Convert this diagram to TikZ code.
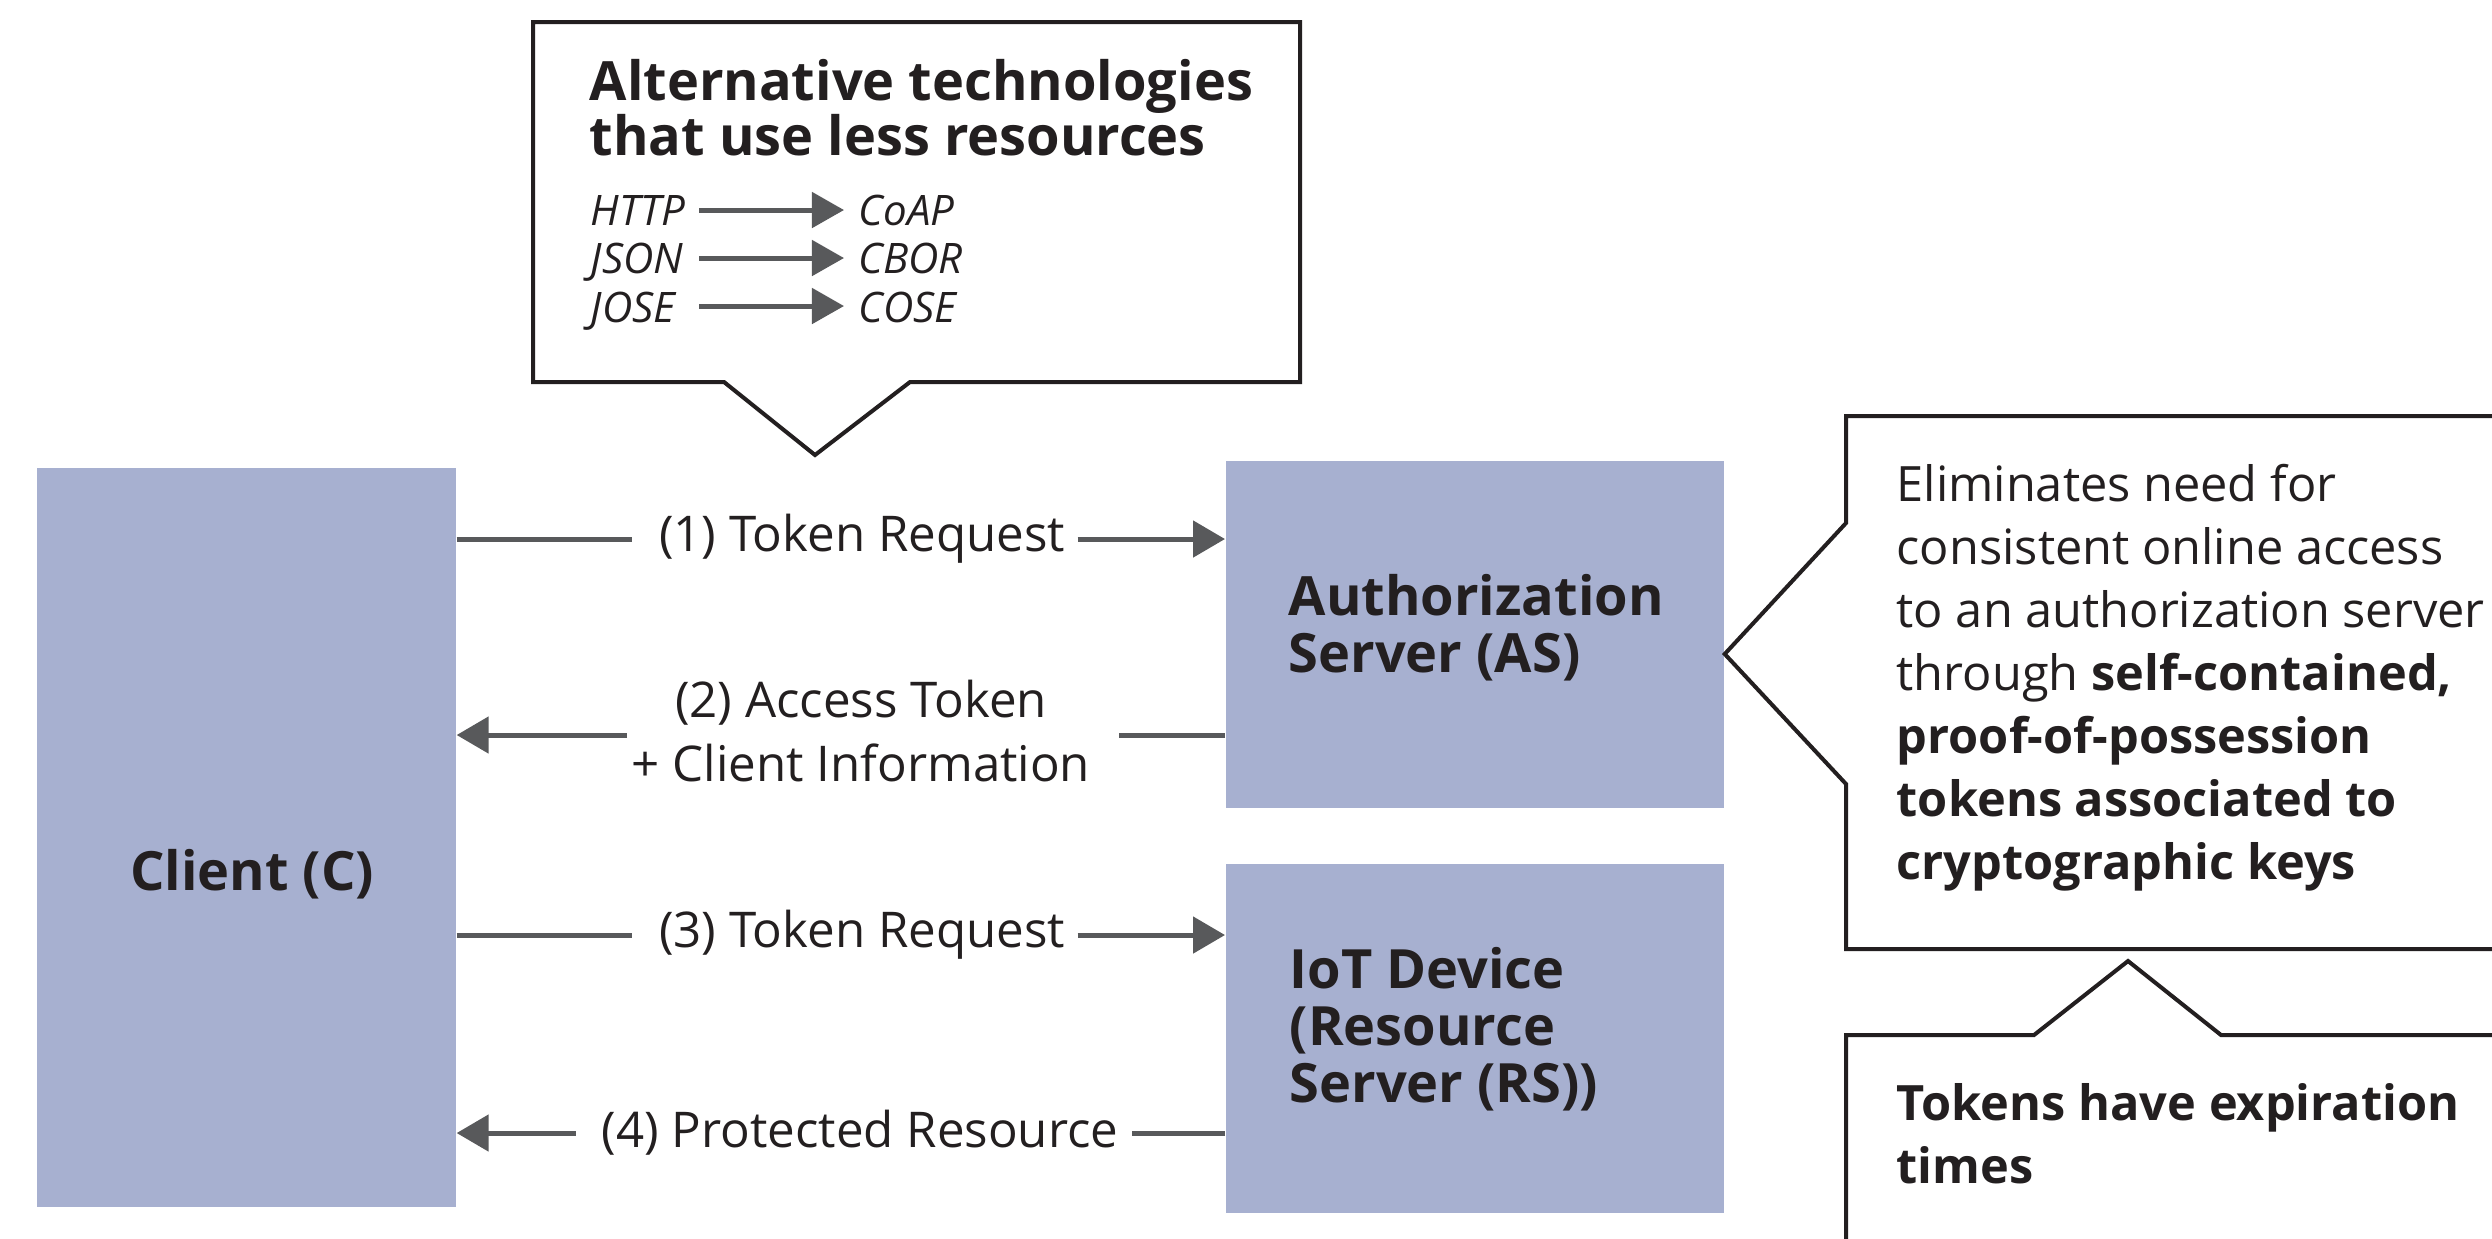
\documentclass[tikz,border=0pt]{standalone}
\usepackage{fontspec}
\setmainfont{Open Sans}
\usetikzlibrary{arrows.meta}
\definecolor{boxfill}{HTML}{A7B0D0}
\definecolor{ink}{HTML}{231F20}
\definecolor{arrowgray}{HTML}{58595B}
\begin{document}
\begin{tikzpicture}[x=0.01cm,y=-0.01cm,
  srvbox/.style={fill=boxfill, draw=none, inner sep=0pt, anchor=north west},
  boxlbl/.style={font=\fontsize{15.4pt}{16.2pt}\selectfont\bfseries, text=ink, inner sep=0pt, align=left},
  msg/.style={font=\fontsize{14pt}{18pt}\selectfont, text=ink, inner sep=0pt, align=center},
  body/.style={font=\fontsize{13.85pt}{17.9pt}\selectfont, text=ink, inner sep=0pt, align=left},
  itl/.style={font=\fontsize{11.95pt}{13.9pt}\selectfont\itshape, text=ink, inner sep=0pt},
  flow/.style={draw=arrowgray, line width=1.42pt},
  tip/.style={-{Triangle[length=0.32cm,width=0.36cm]}},
  smalltip/.style={-{Triangle[length=0.32cm,width=0.35cm]}},
  callout/.style={draw=ink, line width=1.14pt, fill=white, miter limit=10}
]
\useasboundingbox (0,0) rectangle (2492,1238);
\clip (0,0) rectangle (2492,1238);

% server boxes
\node[srvbox, minimum width=4.19cm, minimum height=7.39cm] (client) at (36,467) {};
\node[srvbox, minimum width=4.98cm, minimum height=3.47cm] (as) at (1225,460) {};
\node[srvbox, minimum width=4.98cm, minimum height=3.49cm] (rs) at (1225,863) {};

\node[boxlbl, anchor=base] (clientlbl) at (252,890) {Client (C)};
\node[boxlbl, anchor=base west] (aslbl) at (1288,672) {Authorization\\Server (AS)};
\node[boxlbl, anchor=base west] (rslbl) at (1289,1102) {IoT Device\\(Resource\\Server (RS))};

% messages
\coordinate (y1) at (0,539);
\coordinate (y2) at (0,735);
\coordinate (y3) at (0,935);
\coordinate (y4) at (0,1133);

\node[msg] (m1) at (862,539) {(1) Token Request};
\draw[flow, shorten >=0.26cm] (y1 -| client.east) -- (m1.west |- y1);
\draw[flow, tip, shorten <=0.12cm] (m1.east |- y1) -- (y1 -| as.west);

\node[msg] (m2) at (861,731) {(2) Access Token\\+ Client Information};
\draw[flow, shorten >=0.28cm] (y2 -| as.west) -- (m2.east |- y2);
\draw[flow, tip, shorten <=0.04cm] (m2.west |- y2) -- (y2 -| client.east);

\node[msg] (m3) at (862,935) {(3) Token Request};
\draw[flow, shorten >=0.26cm] (y3 -| client.east) -- (m3.west |- y3);
\draw[flow, tip, shorten <=0.12cm] (m3.east |- y3) -- (y3 -| rs.west);

\node[msg] (m4) at (860,1133) {(4) Protected Resource};
\draw[flow, shorten >=0.13cm] (y4 -| rs.west) -- (m4.east |- y4);
\draw[flow, tip, shorten <=0.25cm] (m4.west |- y4) -- (y4 -| client.east);

% top callout
\draw[callout] (533,22) -- (1300,22) -- (1300,382) -- (910,382) -- (815,455) -- (724,382) -- (533,382) -- cycle;
\node[boxlbl, anchor=base west, font=\fontsize{15.4pt}{15.6pt}\selectfont\bfseries] (alt) at (589,155) {Alternative technologies\\that use less resources};

\node[itl, anchor=base west] (http) at (590,225) {HTTP};
\node[itl, anchor=base west] (json) at (590,273) {JSON};
\node[itl, anchor=base west] (jose) at (590,322) {JOSE};
\node[itl, anchor=base west] (coap) at (858,225) {CoAP};
\node[itl, anchor=base west] (cbor) at (858,273) {CBOR};
\node[itl, anchor=base west] (cose) at (858,322) {COSE};
\coordinate (a1s) at (699,210); \coordinate (a1e) at (844,210);
\coordinate (a2s) at (699,258); \coordinate (a2e) at (844,258);
\coordinate (a3s) at (699,306); \coordinate (a3e) at (844,306);
\draw[flow, smalltip] (a1s) -- (a1e);
\draw[flow, smalltip] (a2s) -- (a2e);
\draw[flow, smalltip] (a3s) -- (a3e);

% right callout
\draw[callout] (2520,416) -- (1846,416) -- (1846,523) -- (as.east |- 0,654) -- (1846,784) -- (1846,949) -- (2520,949);
\node[body, anchor=base west] (note1) at (1896,879) {Eliminates need for\\consistent online access\\to an authorization server\\through \textbf{self-contained,}\\\textbf{proof-of-possession}\\\textbf{tokens associated to}\\\textbf{cryptographic keys}};

% bottom callout
\draw[callout] (2520,1035) -- (2221,1035) -- (2128,961) -- (2034,1035) -- (1846,1035) -- (1846,1300);
\node[body, anchor=base west, font=\fontsize{13.85pt}{17.9pt}\selectfont\bfseries] (note2) at (1896,1183) {Tokens have expiration\\times};
\end{tikzpicture}
\end{document}
